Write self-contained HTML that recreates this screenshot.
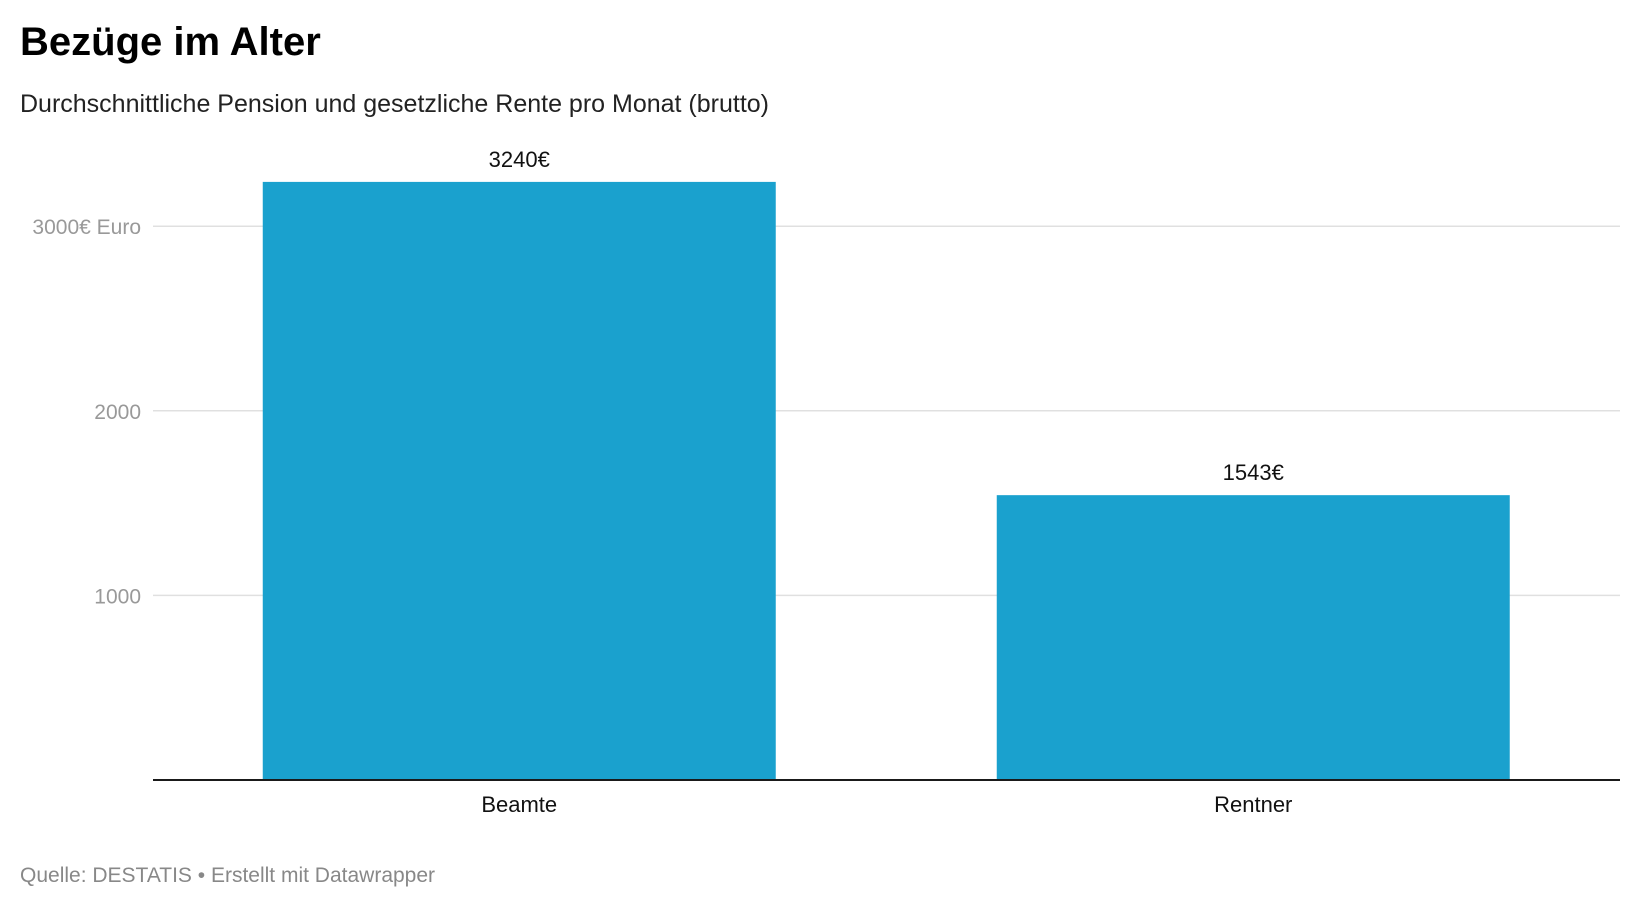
<!DOCTYPE html>
<html><head><meta charset="utf-8"><style>
body{margin:0;width:1640px;height:910px;background:#fff;font-family:"Liberation Sans",sans-serif;overflow:hidden;position:relative}
.t{position:absolute;white-space:nowrap}
</style></head><body>
<div class="t" style="left:20px;top:20px;font-size:40px;font-weight:bold;color:#000">Bezüge im Alter</div>
<div class="t" style="left:20px;top:90px;font-size:25px;color:#222">Durchschnittliche Pension und gesetzliche Rente pro Monat (brutto)</div>
<svg id="chart" width="1640" height="910" style="position:absolute;left:0;top:0"></svg>
<div class="t" style="left:20px;top:864px;font-size:21px;color:#888">Quelle: DESTATIS • Erstellt mit Datawrapper</div>
<script>
const categories=["Beamte","Rentner"];
const values=[3240,1543];
const valueLabels=["3240€","1543€"];
const ticks=[1000,2000,3000];
const tickLabels=["1000","2000","3000€ Euro"];
const svg=document.getElementById('chart');
const NS='http://www.w3.org/2000/svg';
const y0=780,pxPer=184.6/1000;
const y=v=>y0-v*pxPer;
const x0=153,x1=1620,band=(x1-x0)/categories.length,barW=513,off=(band-barW)/2+0;
function mk(t,a){const e=document.createElementNS(NS,t);for(const k in a)e.setAttribute(k,a[k]);svg.appendChild(e);return e;}
ticks.forEach((v,i)=>{
 const l=mk('line',{x1:x0,x2:x1,y1:y(v),y2:y(v),stroke:'#e0e0e0','stroke-width':1.5});
 
 
 const t=mk('text',{x:141,y:y(v)+8,'text-anchor':'end','font-size':21,fill:'#999','font-family':'Liberation Sans, sans-serif'});
 t.textContent=tickLabels[i];
 
 
});
categories.forEach((c,i)=>{
 const bx=x0+i*band+(band-barW)/2-(i===0?0:0)+ (i===0?-0.5:0);
 const cx=bx+barW/2;
 const r=mk('rect',{x:bx,y:y(values[i]),width:barW,height:y0-y(values[i]),fill:'#1aa1ce'});
 
 
 const vt=mk('text',{x:cx,y:y(values[i])-15,'text-anchor':'middle','font-size':22,fill:'#111','font-family':'Liberation Sans, sans-serif'});
 vt.textContent=valueLabels[i];
 
 
 const ct=mk('text',{x:cx,y:812,'text-anchor':'middle','font-size':22,fill:'#111','font-family':'Liberation Sans, sans-serif'});
 ct.textContent=c;
 
 
});
const ax=mk('line',{x1:x0,x2:x1,y1:y0,y2:y0,stroke:'#1a1a1a','stroke-width':2});


</script>
</body></html>
